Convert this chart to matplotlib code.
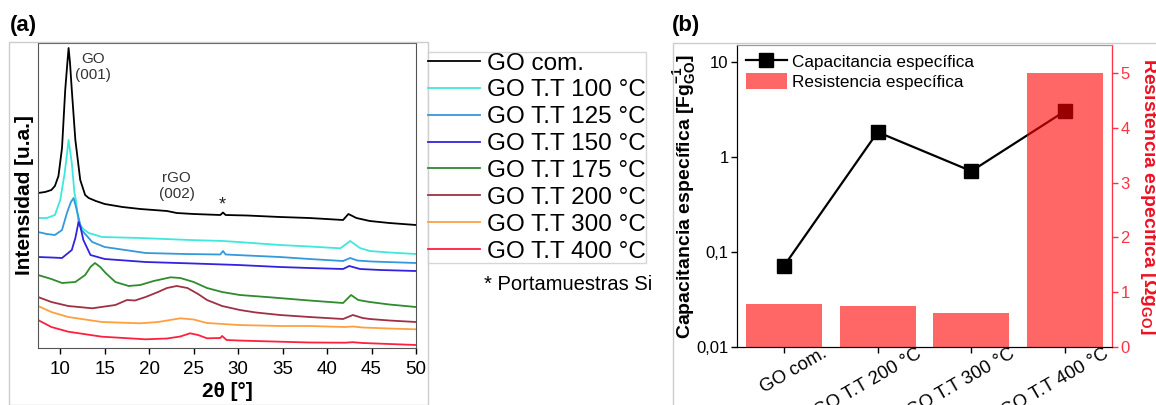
import numpy as np
import matplotlib
matplotlib.use('Agg')
import matplotlib.pyplot as plt
from matplotlib.patches import Rectangle
from matplotlib.transforms import ScaledTranslation

plt.rcParams['font.family'] = ['Liberation Sans', 'DejaVu Sans']
plt.rcParams['mathtext.fontset'] = 'custom'
plt.rcParams['mathtext.rm'] = 'Liberation Sans:bold'
plt.rcParams['mathtext.it'] = 'Liberation Sans:bold'
plt.rcParams['mathtext.bf'] = 'Liberation Sans:bold'
plt.rcParams['mathtext.default'] = 'rm'

# ---- (a) XRD patterns, 2theta [deg] vs intensity [a.u.] (offset curves)
tt_com = [7.5, 8.3, 9.0, 9.4, 9.8, 10.2, 10.56, 10.8, 10.94, 11.1, 11.3, 11.7, 12.25, 12.8, 13.2,
          14.0, 15.0, 17.0, 19.0, 22.0, 23.1, 25.0, 28.0, 28.3, 28.6, 31.0, 34.7, 38.0, 41.8,
          42.4, 43.3, 44.8, 47.0, 50.0]
i_com = [155, 156, 158, 162, 172, 200, 258, 285, 300, 285, 258, 208, 168, 153, 150,
         147, 144, 141, 139, 137, 135, 134, 133, 135.5, 133, 132.5, 131, 130, 128,
         134, 130, 127, 125, 123]

tt_100 = [7.5, 8.5, 9.4, 10.0, 10.5, 10.94, 11.3, 11.6, 11.76, 12.06, 12.6, 13.2, 14.7, 19.0,
          24.6, 28.3, 30.0, 34.7, 38.0, 41.5, 42.6, 43.7, 44.8, 47.0, 50.0]
i_100 = [130, 130, 133, 148, 175, 208, 185, 155, 148, 125, 119, 115, 111, 110,
         108, 107, 106, 103, 101.5, 99.7, 107, 100, 97, 95.5, 94]

tt_125 = [7.5, 8.5, 9.4, 10.2, 10.75, 11.2, 11.5, 11.8, 12.4, 13.6, 15.0, 19.6, 24.0, 28.0,
          28.3, 28.6, 31.0, 34.7, 38.0, 41.8, 42.6, 43.4, 45.0, 50.0]
i_125 = [116, 114, 113, 118, 135, 146, 150, 140, 118, 106, 101, 95, 94, 93.5,
         97, 93.5, 92.5, 91, 89, 87, 90, 87.5, 86.5, 85]

tt_150 = [7.5, 9.0, 10.2, 11.3, 11.7, 12.06, 12.3, 12.6, 13.4, 15.0, 19.6, 25.0, 30.0, 34.7,
          38.0, 41.8, 42.5, 43.7, 46.0, 50.0]
i_150 = [91, 90.5, 90, 98, 110, 126, 120, 108, 93, 89, 86, 84.5, 83, 81,
         80, 79, 82, 79, 78, 77]

tt_175 = [7.5, 9.0, 10.2, 11.7, 12.8, 13.4, 13.9, 14.5, 15.1, 16.2, 17.7, 19.0, 20.5, 22.4,
          23.5, 25.0, 26.5, 28.2, 30.2, 33.6, 38.0, 41.8, 42.7, 43.5, 44.8, 47.0, 50.0]
i_175 = [73, 69, 65, 66, 73, 81, 85, 81, 75, 66, 62, 63, 67, 70.7,
         70, 66, 60, 56, 53, 50.7, 47.5, 45, 53, 48, 46, 43.5, 41]

tt_200 = [7.5, 9.0, 10.9, 13.6, 16.2, 17.5, 18.4, 19.6, 21.0, 22.0, 23.1, 24.3, 25.5, 26.5,
          28.2, 30.2, 32.0, 34.7, 38.0, 41.8, 42.9, 44.0, 44.8, 47.0, 50.0]
i_200 = [51, 46, 42, 39.7, 43, 48, 47.5, 51, 56, 60, 62, 60, 54, 48,
         42, 38, 35.5, 33, 31, 29, 33, 30, 29, 27.5, 26]

tt_300 = [7.5, 9.0, 10.9, 14.7, 19.0, 21.0, 23.5, 25.0, 26.5, 28.3, 30.0, 34.7, 38.0, 42.0,
          42.9, 44.0, 47.0, 50.0]
i_300 = [42, 36, 31, 26, 24.7, 26, 29.7, 28.5, 25, 24, 23, 22, 22, 21,
         21.5, 20.5, 19.5, 18.7]

tt_400 = [7.5, 9.0, 10.9, 14.7, 19.6, 22.0, 23.5, 24.6, 25.5, 26.5, 28.0, 28.2, 28.7, 30.0,
          34.7, 38.0, 42.0, 42.9, 44.0, 47.0, 50.0]
i_400 = [28, 21, 16.3, 11.3, 8.7, 9.5, 11.5, 14.7, 13, 9.7, 10, 12, 8, 7.5,
         6.3, 5.5, 5.3, 5.8, 5, 4, 3]

xrd_labels = ['GO com.', 'GO T.T 100 °C', 'GO T.T 125 °C', 'GO T.T 150 °C',
              'GO T.T 175 °C', 'GO T.T 200 °C', 'GO T.T 300 °C', 'GO T.T 400 °C']
xrd_colors = ['#000000', '#3fe8dc', '#3399dd', '#3322e0', '#2e8b2e', '#a03045', '#ffa040', '#ff2040']

# ---- (b) electrochemical data
samples = ['GO com.', 'GO T.T 200 °C', 'GO T.T 300 °C', 'GO T.T 400 °C']
capacitance = [0.071, 1.83, 0.71, 3.05]     # F/g
resistance = [0.78, 0.75, 0.62, 5.0]        # ohm g

W, H = 1156, 405
fig = plt.figure(figsize=(W / 100, H / 100), dpi=100)

def fx(px):
    return px / W

def fy(py):
    return 1 - py / H

# panel frames
fig.add_artist(Rectangle((fx(9), fy(405)), fx(428 - 9), fy(42) - fy(405),
                         transform=fig.transFigure, fill=False, edgecolor='#cccccc', lw=1))
fig.add_artist(Rectangle((fx(673), fy(410)), fx(500), fy(43) - fy(410),
                         transform=fig.transFigure, fill=False, edgecolor='#cccccc', lw=1))

# ---------------- panel (a)
ax = fig.add_axes([fx(38), fy(348), fx(416 - 38), fy(43) - fy(348)])
series = [(tt_com, i_com), (tt_100, i_100), (tt_125, i_125), (tt_150, i_150),
          (tt_175, i_175), (tt_200, i_200), (tt_300, i_300), (tt_400, i_400)]
handles = []
for (tt, ii), lab, col in zip(series, xrd_labels, xrd_colors):
    h, = ax.plot(tt, ii, color=col, lw=1.3, label=lab)
    handles.append(h)
ax.set_xlim(7.5, 50)
ax.set_ylim(0, 305)
ax.set_xticks([10, 15, 20, 25, 30, 35, 40, 45, 50])
ax.set_yticks([])
ax.tick_params(axis='x', direction='out', length=4, width=1, labelsize=13.5, pad=5)
for s in ax.spines.values():
    s.set_color('#555555')
ax.set_xlabel('2θ [°]', fontsize=15, fontweight='bold', labelpad=3)
ax.set_ylabel('Intensidad [u.a.]', fontsize=15, fontweight='bold', labelpad=3)
ax.text(13.7, 281, 'GO\n(001)', ha='center', va='center', fontsize=11, color='#333333')
ax.text(23.1, 162, 'rGO\n(002)', ha='center', va='center', fontsize=11, color='#333333')
ax.text(28.2, 143, '*', ha='center', va='center', fontsize=13, color='#222222')

leg = fig.legend(handles=handles, loc='upper left', bbox_to_anchor=(fx(428), fy(52)),
                 bbox_transform=fig.transFigure, fontsize=17.5, frameon=True, fancybox=False,
                 borderaxespad=0, borderpad=0.02, labelspacing=0.2, handlelength=2.1,
                 handletextpad=0.3)
leg.get_frame().set_edgecolor('#cccccc')
leg.get_frame().set_linewidth(1)
fig.text(fx(652), fy(285), '* Portamuestras Si', fontsize=14.5, ha='right', va='center')

fig.text(fx(10), fy(26), '(a)', fontsize=16, fontweight='bold', va='center')
fig.text(fx(672), fy(26), '(b)', fontsize=16, fontweight='bold', va='center')

# ---------------- panel (b)
bx = fig.add_axes([fx(737), fy(347), fx(1112 - 737), fy(45) - fy(347)])
pos = np.arange(len(samples))
ln, = bx.plot(pos, capacitance, color='black', lw=1.6, marker='s', markersize=10,
              label='Capacitancia específica')
bx.set_yscale('log')
bx.set_ylim(0.01, 15.1)
bx.set_yticks([0.01, 0.1, 1, 10])
bx.set_yticklabels(['0,01', '0,1', '1', '10'])
bx.minorticks_off()
bx.set_xlim(-0.5, 3.5)
bx.set_xticks(pos)
bx.set_xticklabels([])
bx.tick_params(axis='both', direction='out', length=4, width=1, labelsize=12, pad=2)
# rotated category labels, anchored at their end, offset to the right of each tick
lab_tr = bx.get_xaxis_transform() + ScaledTranslation(0.38, 0.02, fig.dpi_scale_trans)
for p, s in zip(pos, samples):
    bx.text(p, 0, s, transform=lab_tr, rotation=30, ha='right', va='top',
            rotation_mode='anchor', fontsize=13.3, clip_on=False)
bx.spines['top'].set_color('#999999')
bx.set_ylabel('Capacitancia específica [Fg$_{GO}^{-1}$]', fontsize=14, fontweight='bold')
bx.yaxis.set_label_coords(-0.105, 0.5)

bx2 = bx.twinx()
bars = bx2.bar(pos, resistance, width=0.81, color='red', alpha=0.6, linewidth=0,
               label='Resistencia específica')
bx2.set_ylim(0, 5.51)
bx2.set_yticks([0, 1, 2, 3, 4, 5])
red = '#ff3344'
bx2.tick_params(axis='y', colors=red, direction='out', length=4, width=1, labelsize=12, pad=2)
bx2.spines['right'].set_color(red)
bx2.spines['top'].set_color('#999999')
bx2.set_ylabel('Resistencia específica [Ωg$_{GO}$]', fontsize=14, fontweight='bold',
               color='#ee1122', rotation=270, va='center')
bx2.yaxis.set_label_coords(1.097, 0.5)

bx2.legend(handles=[ln, bars], loc='upper left', bbox_to_anchor=(0.0, 1.0), frameon=False,
           fontsize=12.3, borderaxespad=0.3, borderpad=0.2, labelspacing=0.2,
           handlelength=2.4, handleheight=1.0, handletextpad=0.3)

fig.savefig('out.png', dpi=100)
